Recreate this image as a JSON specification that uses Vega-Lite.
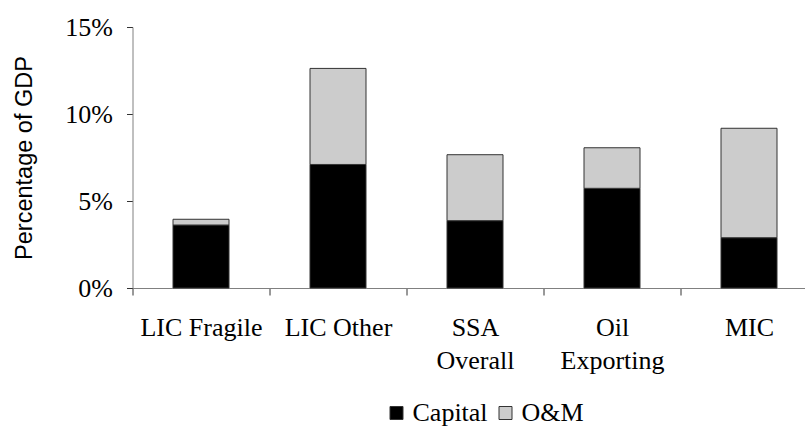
{
  "$schema": "https://vega.github.io/schema/vega-lite/v6.json",
  "width": 685,
  "height": 261,
  "autosize": {"type": "none"},
  "padding": {"left": 132.5, "top": 27, "right": 0, "bottom": 139},
  "background": "white",
  "data": {
    "values": [
      {"group": "LIC Fragile", "component": "Capital", "value": 3.62},
      {"group": "LIC Fragile", "component": "O&M", "value": 0.33},
      {"group": "LIC Other", "component": "Capital", "value": 7.1},
      {"group": "LIC Other", "component": "O&M", "value": 5.52},
      {"group": "SSA Overall", "component": "Capital", "value": 3.87},
      {"group": "SSA Overall", "component": "O&M", "value": 3.79},
      {"group": "Oil Exporting", "component": "Capital", "value": 5.73},
      {"group": "Oil Exporting", "component": "O&M", "value": 2.33},
      {"group": "MIC", "component": "Capital", "value": 2.89},
      {"group": "MIC", "component": "O&M", "value": 6.29}
    ]
  },
  "mark": {"type": "bar", "width": 56, "stroke": "#333333", "strokeWidth": 1},
  "encoding": {
    "x": {
      "field": "group",
      "type": "nominal",
      "sort": ["LIC Fragile", "LIC Other", "SSA Overall", "Oil Exporting", "MIC"],
      "scale": {"paddingInner": 0, "paddingOuter": 0},
      "axis": {
        "title": null,
        "labelAngle": 0,
        "tickBand": "extent",
        "tickSize": 7,
        "tickColor": "#333333",
        "domainColor": "#808080",
        "labelFont": "Liberation Serif",
        "labelFontSize": 26,
        "labelColor": "#000000",
        "labelPadding": 40,
        "labelBaseline": "alphabetic",
        "labelLineHeight": 33,
        "labelExpr": "datum.value == 'SSA Overall' ? ['SSA', 'Overall'] : datum.value == 'Oil Exporting' ? ['Oil', 'Exporting'] : datum.value"
      }
    },
    "y": {
      "field": "value",
      "type": "quantitative",
      "stack": "zero",
      "scale": {"domain": [0, 15], "nice": false},
      "axis": {
        "title": "Percentage of GDP",
        "titleFont": "Liberation Sans",
        "titleFontSize": 23.5,
        "titleFontWeight": "normal",
        "titleColor": "#000000",
        "titlePadding": 28,
        "values": [0, 5, 10, 15],
        "labelExpr": "datum.value + '%'",
        "labelFont": "Liberation Serif",
        "labelFontSize": 26,
        "labelColor": "#000000",
        "labelPadding": 14,
        "tickSize": 6,
        "tickColor": "#333333",
        "domainColor": "#808080",
        "grid": false
      }
    },
    "color": {
      "field": "component",
      "type": "nominal",
      "scale": {"domain": ["Capital", "O&M"], "range": ["#000000", "#cccccc"]},
      "legend": {
        "title": null,
        "orient": "none",
        "direction": "horizontal",
        "legendX": 251,
        "legendY": 373,
        "symbolType": "square",
        "symbolSize": 169,
        "symbolStrokeColor": "#333333",
        "symbolStrokeWidth": 1,
        "labelFont": "Liberation Serif",
        "labelFontSize": 26,
        "labelColor": "#000000",
        "labelOffset": 3,
        "columnPadding": 4
      }
    },
    "order": {"field": "component", "sort": "ascending"}
  },
  "config": {"view": {"stroke": null}}
}
